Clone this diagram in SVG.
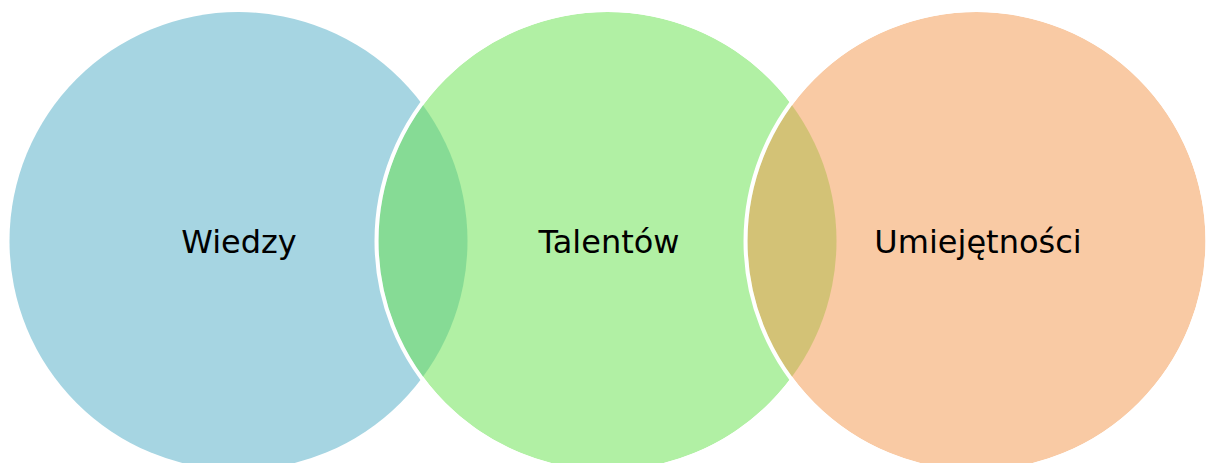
<svg xmlns="http://www.w3.org/2000/svg" width="1206" height="463" viewBox="0 0 1206 463">
  <style>
    .label { font-family: "Comic Sans MS", "DejaVu Sans", sans-serif; font-size: 32px; fill: #000000; text-anchor: middle; }
    .ring { fill: none; stroke: #ffffff; stroke-width: 4; }
  </style>
  <defs>
    <clipPath id="clipM"><circle cx="607.5" cy="241" r="229"/></clipPath>
    <clipPath id="clipR"><circle cx="976.5" cy="241" r="229"/></clipPath>
  </defs>
  <rect width="1206" height="463" fill="#ffffff"/>
  <g id="node-wiedzy">
    <circle cx="238.5" cy="241" r="229" fill="#A6D5E2"/>
    <text class="label" x="239" y="253">Wiedzy</text>
  </g>
  <g id="node-talentow">
    <circle cx="607.5" cy="241" r="229" fill="#B1F0A4"/>
    <circle cx="238.5" cy="241" r="229" fill="#86DB95" clip-path="url(#clipM)"/>
    <circle class="ring" cx="607.5" cy="241" r="231"/>
    <text class="label" x="609" y="253">Talentów</text>
  </g>
  <g id="node-umiejetnosci">
    <circle cx="976.5" cy="241" r="229" fill="#F9CAA4"/>
    <circle cx="607.5" cy="241" r="229" fill="#D3C276" clip-path="url(#clipR)"/>
    <circle class="ring" cx="976.5" cy="241" r="231"/>
    <text class="label" x="978" y="253">Umiejętności</text>
  </g>
</svg>
